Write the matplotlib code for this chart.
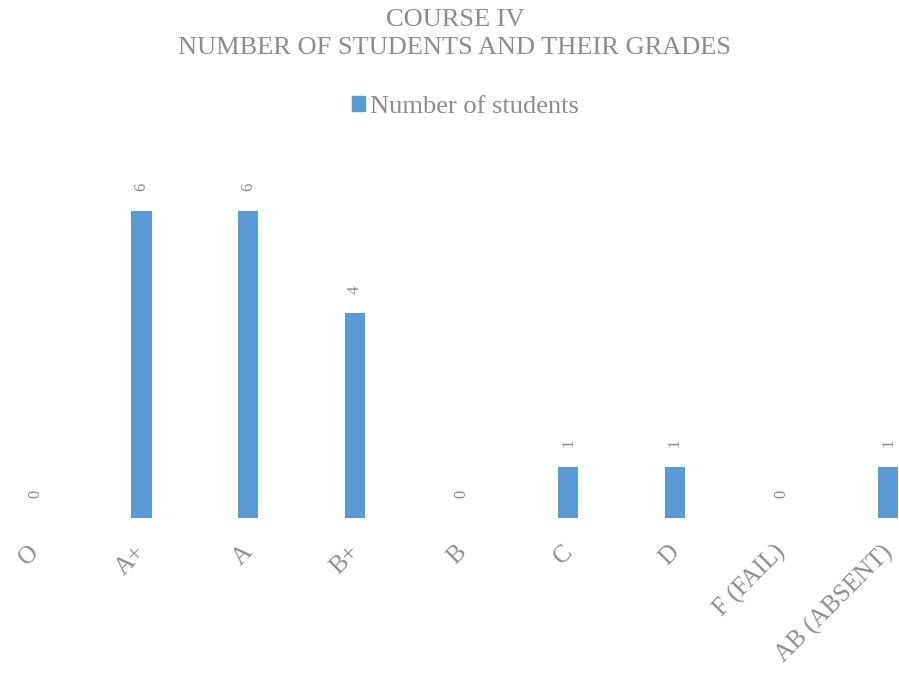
import matplotlib
matplotlib.use("Agg")
import matplotlib.pyplot as plt
from matplotlib.patches import Patch
from matplotlib.transforms import offset_copy

# данные
grades = ["O", "A+", "A", "B+", "B", "C", "D", "F (FAIL)", "AB (ABSENT)"]
students = [0, 6, 6, 4, 0, 1, 1, 0, 1]

bar_color = "#5B9BD5"
text_color = "#8c8c8c"

plt.rcParams["font.family"] = ["Liberation Serif", "DejaVu Serif"]

fig = plt.figure(figsize=(8.99, 6.99), dpi=100)
ax = fig.add_axes([0.0, 0.259, 1.0, 0.513])

x = list(range(len(grades)))
ax.bar(x, students, width=0.19, color=bar_color, label="Number of students")

ax.set_xlim(-0.328, 8.103)
ax.set_ylim(0, 7)

# подписи значений
for xi, v in zip(x, students):
    ax.annotate(str(v), (xi, v), xytext=(0, 17), textcoords="offset points",
                rotation=90, ha="center", va="center", fontsize=12, color=text_color)

# оси без линий и делений
ax.set_xticks(x)
ax.set_xticklabels([])
ax.tick_params(length=0)
ax.set_yticks([])
for s in ax.spines.values():
    s.set_visible(False)

# подписи категорий под углом 45
trans = offset_copy(ax.get_xaxis_transform(), fig=fig, x=1, y=-31, units="dots")
for xi, g in zip(x, grades):
    ax.text(xi, 0, g, transform=trans, rotation=45, rotation_mode="anchor",
            ha="right", va="center", fontsize=18, color=text_color)

# заголовок
fig.text(0.506, 0.972, "COURSE IV", ha="center", va="center",
         fontsize=19, color=text_color)
fig.text(0.506, 0.931, "NUMBER OF STUDENTS AND THEIR GRADES", ha="center", va="center",
         fontsize=19, color=text_color)

# легенда
fig.legend(handles=[Patch(color=bar_color, label="Number of students")],
           loc="center", bbox_to_anchor=(0.518, 0.847), frameon=False,
           fontsize=19, labelcolor=text_color, handlelength=0.5, handleheight=0.5,
           handletextpad=0.2)

fig.savefig("out.png", dpi=100)
